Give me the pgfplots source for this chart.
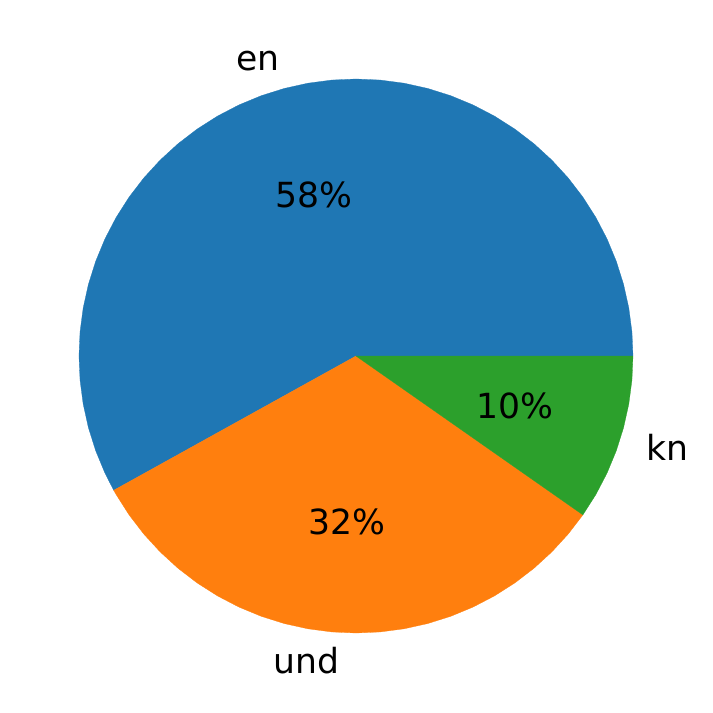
\documentclass[border=0pt]{standalone}
\usepackage{pgfplots}
\pgfplotsset{compat=1.18}
\usepgfplotslibrary{polar}
\usepackage{fontspec}
\setmainfont{DejaVu Sans}
\definecolor{cA}{HTML}{1F77B4}
\definecolor{cB}{HTML}{FF7F0E}
\definecolor{cC}{HTML}{2CA02C}
\begin{document}
\begin{tikzpicture}
\useasboundingbox (-3.56in,-3.57in) rectangle (3.56in,3.56in);
\begin{polaraxis}[
  at={(0,0)}, anchor=center,
  scale only axis, width=5.54in, height=5.54in,
  hide axis, xmin=0, xmax=360, ymin=0, ymax=1,
  clip=false,
  font=\fontsize{25}{30}\selectfont,
]
% en: 58.06% (0 -> 209 deg)
\addplot[draw=cA, fill=cA, line width=0.2pt] coordinates {(0,0) (0,1) (5,1) (10,1) (15,1) (20,1) (25,1) (30,1) (35,1) (40,1) (45,1) (50,1) (55,1) (60,1) (65,1) (70,1) (75,1) (80,1) (85,1) (90,1) (95,1) (100,1) (105,1) (110,1) (115,1) (120,1) (125,1) (130,1) (135,1) (140,1) (145,1) (150,1) (155,1) (160,1) (165,1) (170,1) (175,1) (180,1) (185,1) (190,1) (195,1) (200,1) (205,1) (209,1) (0,0)} -- cycle;
% und: 32.22% (209 -> 325 deg)
\addplot[draw=cB, fill=cB, line width=0.2pt] coordinates {(0,0) (209,1) (210,1) (215,1) (220,1) (225,1) (230,1) (235,1) (240,1) (245,1) (250,1) (255,1) (260,1) (265,1) (270,1) (275,1) (280,1) (285,1) (290,1) (295,1) (300,1) (305,1) (310,1) (315,1) (320,1) (325,1) (0,0)} -- cycle;
% kn: 9.72% (325 -> 360 deg)
\addplot[draw=cC, fill=cC, line width=0.2pt] coordinates {(0,0) (325,1) (330,1) (335,1) (340,1) (345,1) (350,1) (355,1) (360,1) (0,0)} -- cycle;
\node[anchor=east, inner sep=0pt] at (axis cs:104.5,1.1) {en};
\node[anchor=east, inner sep=0pt] at (axis cs:267,1.1) {und};
\node[anchor=west, inner sep=0pt] at (axis cs:342.5,1.1) {kn};
\node[inner sep=0pt] at (axis cs:104.5,0.6) {58\%};
\node[inner sep=0pt] at (axis cs:267,0.6) {32\%};
\node[inner sep=0pt] at (axis cs:342.5,0.6) {10\%};
\end{polaraxis}
\end{tikzpicture}
\end{document}
